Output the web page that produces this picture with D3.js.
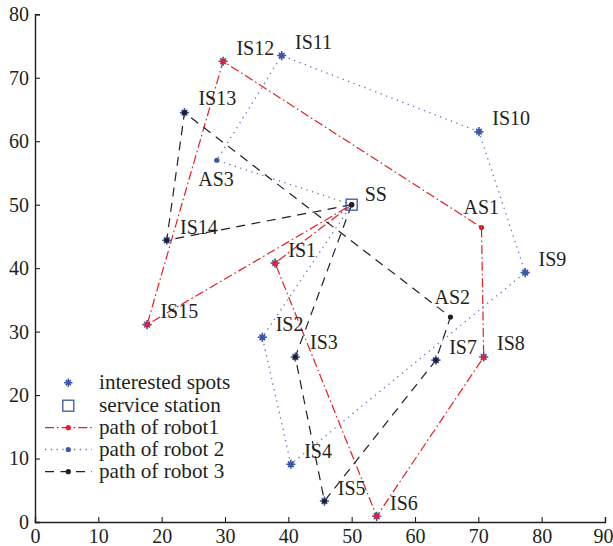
<!DOCTYPE html>
<html>
<head>
<meta charset="utf-8">
<script src="https://cdn.jsdelivr.net/npm/d3@7"></script>
<style>
  html, body { margin: 0; padding: 0; background: #fff; }
  svg text { font-family: "Liberation Serif", "DejaVu Serif", serif; fill: #231f20; }
</style>
</head>
<body>
<svg id="chart" width="613" height="546"></svg>
<script>
// Sites: interested spots (IS), auxiliary stops (AS) and the service station (SS)
const siteNames = ["SS", "IS1", "IS2", "IS3", "IS4", "IS5", "IS6", "IS7", "IS8", "IS9", "IS10",
                   "IS11", "IS12", "IS13", "IS14", "IS15", "AS1", "AS2", "AS3"];
const siteX = [50, 37.9, 35.9, 41.1, 40.4, 45.7, 53.95, 63.3, 70.85, 77.4, 70.1,
               38.95, 29.7, 23.6, 20.8, 17.7, 70.5, 65.6, 28.7];
const siteY = [50, 40.8, 29.1, 26.0, 9.1, 3.3, 0.9, 25.5, 26.0, 39.3, 61.5,
               73.5, 72.6, 64.5, 44.4, 31.1, 46.4, 32.3, 57.0];

// Tours of the three robots, each starting and ending at the service station
const robot1Path = ["SS", "IS1", "IS6", "IS8", "AS1", "IS12", "IS15", "SS"];
const robot2Path = ["SS", "AS3", "IS11", "IS10", "IS9", "IS4", "IS2", "SS"];
const robot3Path = ["SS", "IS14", "IS13", "AS2", "IS7", "IS5", "IS3", "SS"];

const xTicks = [0, 10, 20, 30, 40, 50, 60, 70, 80, 90];
const yTicks = [0, 10, 20, 30, 40, 50, 60, 70, 80];

const legendLabels = ["interested spots", "service station", "path of robot1", "path of robot 2", "path of robot 3"];

// ---- styling / layout ----
const INK = "#231f20";
const RED = "#ec1c24";
const BLUE = "#3a56a8";
const BLUE_LINE = "#5a74c8";
const FONT = 20;
const LEGEND_FONT = 21.2;

const svg = d3.select("#chart");
const x = d3.scaleLinear().domain([0, 90]).range([35, 605]);
const y = d3.scaleLinear().domain([0, 80]).range([522, 14.3]);

const site = {};
siteNames.forEach((n, i) => { site[n] = { name: n, x: siteX[i], y: siteY[i] }; });

// Label placement relative to the site marker (pixels)
const labelOffset = { AS1: [-18, -14], AS2: [-16, -13], AS3: [-18.5, 25.7], IS13: [14, -8], IS3: [14.7, -8.4], SS: [13, -4] };
const defaultOffset = [13.3, -6.5];

// ---- axes (left and bottom only, inward ticks) ----
const xAxis = d3.axisBottom(x).tickValues(xTicks).tickSize(-5).tickPadding(8);
const yAxis = d3.axisLeft(y).tickValues(yTicks).tickSize(-5).tickPadding(6);

const gx = svg.append("g").attr("transform", `translate(0,${y(0)})`).call(xAxis);
const gy = svg.append("g").attr("transform", `translate(${x(0)},0)`).call(yAxis);
[gx, gy].forEach(g => {
  g.selectAll(".domain").attr("stroke", INK).attr("stroke-width", 1.4);
  g.selectAll(".tick line").attr("stroke", INK).attr("stroke-width", 1.1);
  g.selectAll(".tick text").attr("fill", INK).style("font-size", FONT + "px")
    .style("font-family", '"Liberation Serif", serif');
});
gx.selectAll(".tick text").attr("dy", "0.66em");
// keep the last x label inside the canvas
gx.selectAll(".tick text").filter(d => d === xTicks[xTicks.length - 1]).attr("dx", -2);
gy.selectAll(".tick text").attr("dy", "0.32em");

// ---- robot tours ----
const line = d3.line().x(d => x(d.x)).y(d => y(d.y));
const robots = [
  { path: robot1Path, color: RED, dash: "9,3,1.6,3", width: 1.2, dot: RED },
  { path: robot2Path, color: BLUE_LINE, dash: "1.3,4.5", width: 1.3, dot: BLUE },
  { path: robot3Path, color: INK, dash: "9,6.5", width: 1.2, dot: INK }
];

robots.forEach(r => {
  svg.append("path")
    .datum(r.path.map(n => site[n]))
    .attr("d", line)
    .attr("fill", "none")
    .attr("stroke", r.color)
    .attr("stroke-width", r.width)
    .attr("stroke-dasharray", r.dash);
});

// ---- markers ----
function starPath(s) {
  const a = s, b = s * 0.62;
  return `M${-a},0L${a},0M0,${-a}L0,${a}M${-b},${-b}L${b},${b}M${-b},${b}L${b},${-b}`;
}

const spots = siteNames.filter(n => n.startsWith("IS")).map(n => site[n]);
svg.append("g").selectAll("path").data(spots).join("path")
  .attr("transform", d => `translate(${x(d.x)},${y(d.y)})`)
  .attr("d", starPath(4.6))
  .attr("stroke", BLUE).attr("stroke-width", 1.6).attr("fill", "none");

// service station square
svg.append("rect")
  .attr("x", x(site.SS.x) - 5.5).attr("y", y(site.SS.y) - 5.5)
  .attr("width", 11).attr("height", 11)
  .attr("fill", "none").attr("stroke", BLUE).attr("stroke-width", 1.3);

// visited-site dots, coloured by robot
robots.forEach(r => {
  svg.append("g").selectAll("circle").data(r.path.slice(0, -1).map(n => site[n])).join("circle")
    .attr("cx", d => x(d.x)).attr("cy", d => y(d.y)).attr("r", 2.6)
    .attr("fill", r.dot);
});

// ---- site labels ----
svg.append("g").selectAll("text").data(siteNames.map(n => site[n])).join("text")
  .attr("x", d => x(d.x) + (labelOffset[d.name] || defaultOffset)[0])
  .attr("y", d => y(d.y) + (labelOffset[d.name] || defaultOffset)[1])
  .style("font-size", FONT + "px")
  .text(d => d.name);

// ---- legend ----
const legend = svg.append("g");
const rowY = [382.7, 405.7, 427.7, 449.5, 471.7];
const symX = 68.3, lineX0 = 45, lineX1 = 92, textX = 99;

legendLabels.forEach((lab, i) => {
  const yy = rowY[i];
  if (i === 0) {
    legend.append("path").attr("transform", `translate(${symX},${yy})`)
      .attr("d", starPath(4.2)).attr("stroke", BLUE).attr("stroke-width", 1.5);
  } else if (i === 1) {
    legend.append("rect").attr("x", symX - 5.5).attr("y", yy - 5.5).attr("width", 11).attr("height", 11)
      .attr("fill", "none").attr("stroke", BLUE).attr("stroke-width", 1.3);
  } else {
    const r = robots[i - 2];
    legend.append("line").attr("x1", lineX0).attr("x2", lineX1).attr("y1", yy).attr("y2", yy)
      .attr("stroke", r.color).attr("stroke-width", r.width).attr("stroke-dasharray", r.dash);
    legend.append("circle").attr("cx", symX).attr("cy", yy).attr("r", 2.6).attr("fill", r.dot);
  }
  legend.append("text").attr("x", textX).attr("y", yy).attr("dy", "0.3em")
    .style("font-size", LEGEND_FONT + "px").text(lab);
});
</script>
</body>
</html>
